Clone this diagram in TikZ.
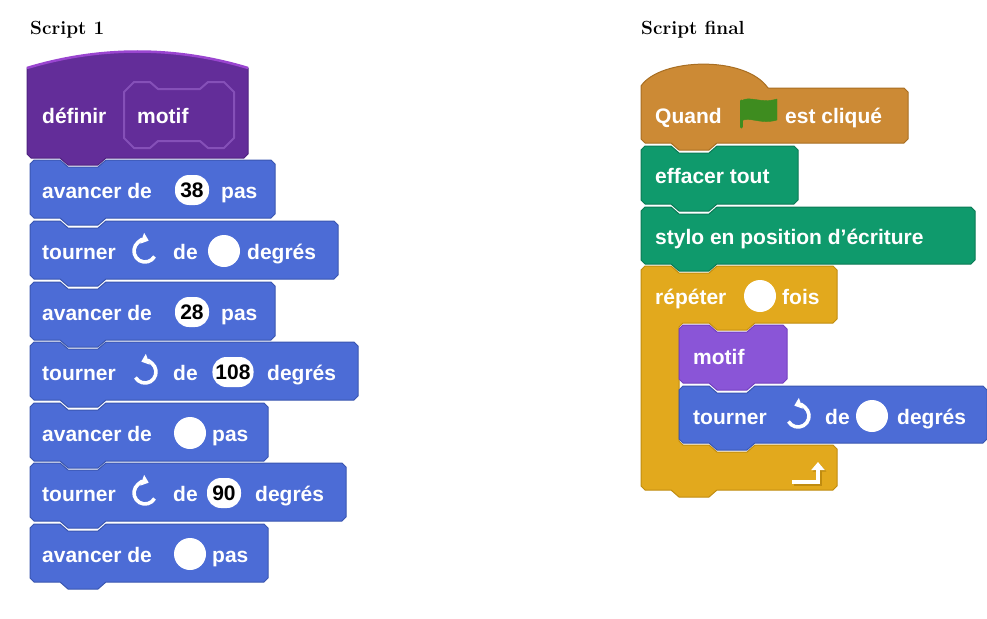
\documentclass[tikz,border=0pt]{standalone}
\usepackage{fontspec}
\newfontfamily\blockfont{Liberation Sans}
\usetikzlibrary{arrows.meta}
\definecolor{mblue}{HTML}{4C6CD6}\definecolor{mblueB}{HTML}{3A56B0}
\definecolor{dpurp}{HTML}{632D99}\definecolor{dpurpB}{HTML}{4F2380}\definecolor{dpurpL}{HTML}{8550B8}\definecolor{dpurpT}{HTML}{9A45D0}
\definecolor{mpurp}{HTML}{8A55D7}\definecolor{mpurpB}{HTML}{7440C0}
\definecolor{evt}{HTML}{CC8A35}\definecolor{evtB}{HTML}{A86E22}
\definecolor{pen}{HTML}{0F9A6C}\definecolor{penB}{HTML}{0B7A55}
\definecolor{ctl}{HTML}{E2A91D}\definecolor{ctlB}{HTML}{C08C10}
\definecolor{flag}{HTML}{3E8C1F}
\tikzset{
  txt/.style={anchor=base west,inner sep=0pt,text=white,font=\blockfont\bfseries\fontsize{21}{21}\selectfont},
  oval/.style={fill=white,rounded corners=14pt,minimum height=30pt,minimum width=34pt,inner sep=3pt,text=black,font=\blockfont\bfseries\fontsize{21}{21}\selectfont},
  dot/.style={circle,fill=white,minimum size=32pt,inner sep=0pt},
  rot/.style={white,line width=3.6pt,-{Triangle[length=7pt,width=11pt]}},
  blk/.style={line width=1pt,line join=round}
}
% #1 x0, #2 y0, #3 x1, #4 y1, #5 fill, #6 border
\newcommand\sblock[6]{%
 \draw[blk,fill=#5,draw=#6] ({#1},{#2+4}) -- ({#1+4},{#2}) -- ({#1+30},{#2}) -- ({#1+38},{#2+7}) -- ({#1+68},{#2+7}) -- ({#1+76},{#2}) -- ({#3-4},{#2}) -- ({#3},{#2+4}) -- ({#3},{#4-4}) -- ({#3-4},{#4}) -- ({#1+76},{#4}) -- ({#1+68},{#4+7}) -- ({#1+38},{#4+7}) -- ({#1+30},{#4}) -- ({#1+4},{#4}) -- ({#1},{#4-4}) -- cycle;}
\newcommand\cwicon[1]{\draw[rot] (#1) ++(30:11) arc[start angle=30,end angle=290,radius=11];}
\newcommand\ccwicon[1]{\draw[rot] (#1) ++(150:11) arc[start angle=150,end angle=-110,radius=11];}
\begin{document}
\begin{tikzpicture}[x=1pt,y=-1pt]
\useasboundingbox[fill=white] (0,0) rectangle (987,618);
\node[anchor=base west,inner sep=0pt,font=\bfseries\fontsize{19}{19}\selectfont] (t1) at (30,35) {Script 1};
\node[anchor=base west,inner sep=0pt,font=\bfseries\fontsize{19}{19}\selectfont] (t2) at (641,35) {Script final};
% ---------- Script 1 ----------
% define hat
\draw[blk,fill=dpurp,draw=dpurpB] (27,68) .. controls (100,46) and (175,46) .. (248,68) -- (248,154) -- (244,158) -- (106,158) -- (98,165) -- (68,165) -- (60,158) -- (31,158) -- (27,154) -- cycle;
\draw[dpurpT,line width=2.5pt] (27,68) .. controls (100,46) and (175,46) .. (248,68);
\draw[dpurpL,line width=2pt,line join=round] (124,92) -- (134,82) -- (150,82) -- (158,89) -- (200,89) -- (208,82) -- (224,82) -- (234,92) -- (234,138) -- (224,148) -- (208,148) -- (200,141) -- (158,141) -- (150,148) -- (134,148) -- (124,138) -- cycle;
\node[txt] (d1) at (42,123) {définir};
\node[txt] (d2) at (137,123) {motif};
% stack
\sblock{30}{160}{275}{218}{mblue}{mblueB}
\node[txt] (a1) at (42,198) {avancer de};
\node[oval] (o1) at (192,190) {38};
\node[txt] (p1) at (221,198) {pas};
\sblock{30}{221}{338}{279}{mblue}{mblueB}
\node[txt] (b1) at (42,259) {tourner};
\coordinate (i1) at (145,251); \cwicon{i1}
\node[txt] (b2) at (173,259) {de};
\node[dot] (c1) at (224,251) {};
\node[txt] (b3) at (247,259) {degrés};
\sblock{30}{282}{275}{340}{mblue}{mblueB}
\node[txt] (a2) at (42,320) {avancer de};
\node[oval] (o2) at (192,312) {28};
\node[txt] (p2) at (221,320) {pas};
\sblock{30}{342}{358}{400}{mblue}{mblueB}
\node[txt] (e1) at (42,380) {tourner};
\coordinate (i2) at (145,372); \ccwicon{i2}
\node[txt] (e2) at (173,380) {de};
\node[oval] (o3) at (233,372) {108};
\node[txt] (e3) at (267,380) {degrés};
\sblock{30}{403}{268}{461}{mblue}{mblueB}
\node[txt] (a3) at (42,441) {avancer de};
\node[dot] (c2) at (190,433) {};
\node[txt] (p3) at (212,441) {pas};
\sblock{30}{463}{346}{521}{mblue}{mblueB}
\node[txt] (f1) at (42,501) {tourner};
\coordinate (i3) at (145,493); \cwicon{i3}
\node[txt] (f2) at (173,501) {de};
\node[oval] (o4) at (224,493) {90};
\node[txt] (f3) at (255,501) {degrés};
\sblock{30}{524}{268}{582}{mblue}{mblueB}
\node[txt] (a4) at (42,562) {avancer de};
\node[dot] (c3) at (190,554) {};
\node[txt] (p4) at (212,562) {pas};
% ---------- Script final ----------
\draw[blk,fill=evt,draw=evtB] (641,86) .. controls (660,58) and (745,55) .. (768,88) -- (904,88) -- (908,92) -- (908,139) -- (904,143) -- (717,143) -- (709,150) -- (679,150) -- (671,143) -- (645,143) -- (641,139) -- cycle;
\node[txt] (q1) at (655,123) {Quand};
\draw[flag,line width=3pt,line cap=round] (741,127) -- (741,101);
\draw[fill=flag,draw=flag,line join=round] (741,101) .. controls (750,95) and (760,104) .. (777,99) -- (777,120) .. controls (760,125) and (750,116) .. (741,121) -- cycle;
\node[txt] (q2) at (785,123) {est cliqué};
\sblock{641}{146}{798}{204}{pen}{penB}
\node[txt] (g1) at (655,183) {effacer tout};
\sblock{641}{207}{975}{264}{pen}{penB}
\node[txt] (h1) at (655,244) {stylo en position d’écriture};
% repeat C block
\draw[blk,fill=ctl,draw=ctlB] (641,270) -- (645,266) -- (671,266) -- (679,273) -- (709,273) -- (717,266) -- (833,266) -- (837,270) -- (837,319) -- (833,323) -- (755,323) -- (747,330) -- (717,330) -- (709,323) -- (683,323) -- (679,327) -- (679,441) -- (683,445) -- (709,445) -- (717,452) -- (747,452) -- (755,445) -- (833,445) -- (837,449) -- (837,486) -- (833,490) -- (717,490) -- (709,497) -- (679,497) -- (671,490) -- (645,490) -- (641,486) -- cycle;
\node[txt] (r1) at (655,304) {répéter};
\node[dot] (c4) at (760,296) {};
\node[txt] (r2) at (782,304) {fois};
\sblock{679}{325}{787}{383}{mpurp}{mpurpB}
\node[txt] (m1) at (693,364) {motif};
\sblock{679}{386}{987}{443}{mblue}{mblueB}
\node[txt] (k1) at (693,424) {tourner};
\coordinate (i4) at (798,416); \ccwicon{i4}
\node[txt] (k2) at (825,424) {de};
\node[dot] (c5) at (872,416) {};
\node[txt] (k3) at (897,424) {degrés};
% loop arrow
\coordinate (la) at (792,482); \coordinate (lb) at (818,482); \coordinate (lc) at (818,462);
\draw[ctlB,line width=4pt,-{Triangle[length=8pt,width=13pt]}] ([xshift=1.5pt,yshift=-1.5pt]la) -- ([xshift=1.5pt,yshift=-1.5pt]lb) -- ([xshift=1.5pt,yshift=-1.5pt]lc);
\draw[white,line width=3.5pt,-{Triangle[length=8pt,width=13pt]}] (la) -- (lb) -- (lc);
\end{tikzpicture}
\end{document}
